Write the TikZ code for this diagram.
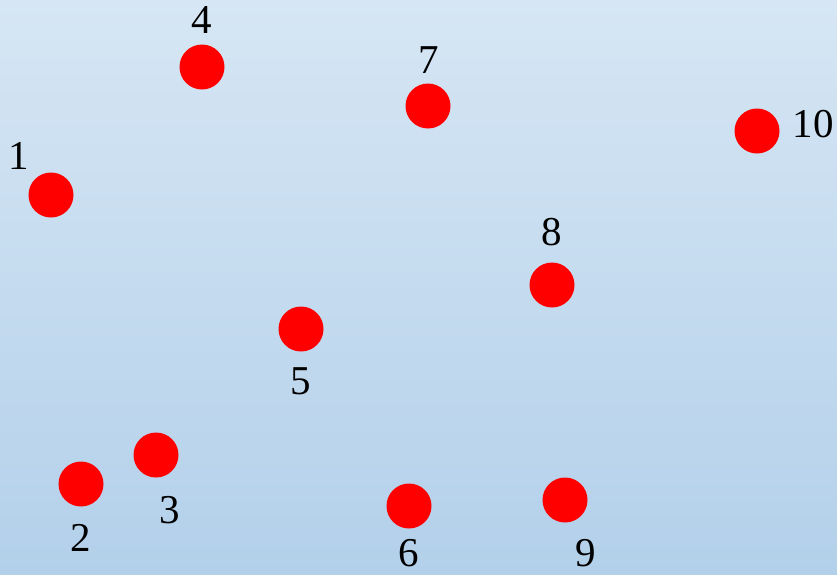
\documentclass[tikz,border=0pt]{standalone}
\usepackage{fontspec}
\setmainfont{Liberation Serif}
\begin{document}
\begin{tikzpicture}[x=1pt,y=-1pt,
  dot/.style={circle,fill=red,minimum size=45pt,inner sep=0pt},
  lab/.style={font=\fontsize{41}{41}\selectfont,text=black,inner sep=0pt,anchor=center}]
\definecolor{bgtop}{HTML}{D6E6F4}
\definecolor{bgbot}{HTML}{B3D0EA}
\shade[top color=bgtop,bottom color=bgbot] (0,0) rectangle (837,574);
\useasboundingbox (0,0) rectangle (837,574);
\node[dot] (d1) at (51,195) {};
\node[dot] (d2) at (81,484) {};
\node[dot] (d3) at (156,455) {};
\node[dot] (d4) at (202,67) {};
\node[dot] (d5) at (301,329) {};
\node[dot] (d6) at (409,506) {};
\node[dot] (d7) at (428,106) {};
\node[dot] (d8) at (552,285) {};
\node[dot] (d9) at (565,500) {};
\node[dot] (d10) at (757,131) {};
\node[lab] (l1) at (19,156) {1};
\node[lab] (l2) at (81,538) {2};
\node[lab] (l3) at (170,510) {3};
\node[lab] (l4) at (202,20) {4};
\node[lab] (l5) at (301,381) {5};
\node[lab] (l6) at (409,553) {6};
\node[lab] (l7) at (429,60) {7};
\node[lab] (l8) at (552,232) {8};
\node[lab] (l9) at (586,553) {9};
\node[lab] (l10) at (813,124) {10};
\end{tikzpicture}
\end{document}
